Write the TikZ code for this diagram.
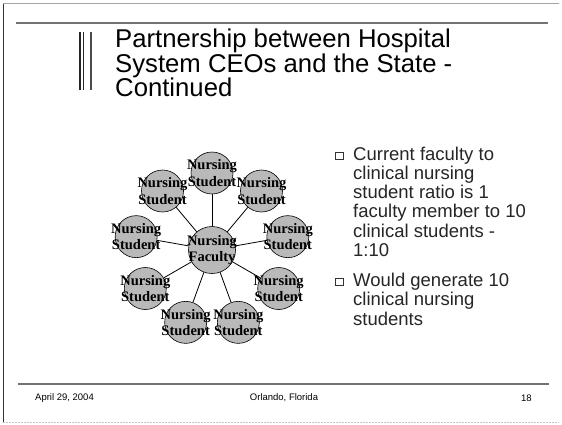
\documentclass[tikz,border=0pt]{standalone}
\usepackage{fontspec}
\setmainfont{Liberation Sans}
\newfontfamily\circfont{Liberation Serif}
\begin{document}
\begin{tikzpicture}[x=1pt,y=-1pt,
  student/.style={circle,draw=black,line width=0.6pt,fill=gray!55,minimum size=42pt,inner sep=0pt},
  faculty/.style={circle,draw=black,line width=0.6pt,fill=gray!55,minimum size=47pt,inner sep=0pt},
  circtext/.style={font=\circfont\bfseries\fontsize{14.5}{16.5}\selectfont,align=center,inner sep=0pt},
  spoke/.style={line width=0.8pt,black},
  titletext/.style={anchor=base west,inner sep=0pt,font=\fontsize{25.7}{27}\selectfont,text=black},
  bodytext/.style={anchor=base west,inner sep=0pt,font=\fontsize{18.5}{21}\selectfont,text=black!85},
  foottext/.style={inner sep=0pt,font=\fontsize{9.5}{11}\selectfont,text=black},
  bulletbox/.style={draw=black!80,line width=0.6pt,minimum size=7.5pt,inner sep=0pt},
]
\useasboundingbox[fill=white] (0,0) rectangle (562,424);
% frame
\draw[black!80,line width=1pt] (3,3) -- (3,422);
\draw[gray!70,line width=0.8pt] (3,3) -- (559,3);
\draw[gray!45,line width=0.8pt,dash pattern=on 2pt off 1pt] (3,422) -- (559,422);
% top rule
\draw[black!55,line width=2pt] (16,22.7) -- (548,22.7);
% title bars
\draw[black!85,line width=1.6pt] (79.8,32) -- (79.8,90);
\draw[black!85,line width=1pt] (83.8,32) -- (83.8,90);
\draw[black!70,line width=2.2pt] (91.3,32) -- (91.3,90);
% title
\node[titletext] (ti1) at (115,47.5) {Partnership between Hospital};
\node[titletext] (ti2) at (115,72.5) {System CEOs and the State -};
\node[titletext] (ti3) at (115,96.5) {Continued};
% diagram
\node[faculty] (f) at (212,250) {};
\foreach \i in {0,...,8}{
  \pgfmathsetmacro{\a}{90+40*\i}
  \node[student] (s\i) at ({212+77*cos(\a)},{250-77*sin(\a)}) {};
  \draw[spoke] (f) -- (s\i);
}
\foreach \i in {0,...,8}{
  \node[circtext] (l\i) at (s\i) {Nursing\\Student};
}
\node[circtext] (lf) at (f) {Nursing\\Faculty};
% bullets
\node[bulletbox] (b1) at (339.5,156) {};
\node[bodytext] (p1) at (353,160) {Current faculty to};
\node[bodytext] (p2) at (353,179.3) {clinical nursing};
\node[bodytext] (p3) at (353,198.6) {student ratio is 1};
\node[bodytext] (p4) at (353,217.9) {faculty member to 10};
\node[bodytext] (p5) at (353,237.2) {clinical students -};
\node[bodytext] (p6) at (353,256.5) {1:10};
\node[bulletbox] (b2) at (339.5,282) {};
\node[bodytext] (q1) at (353,286) {Would generate 10};
\node[bodytext] (q2) at (353,305.5) {clinical nursing};
\node[bodytext] (q3) at (353,325) {students};
% footer
\draw[black!55,line width=1.5pt] (18,384) -- (549,384);
\node[foottext,anchor=west] (fa) at (35,398) {April 29, 2004};
\node[foottext] (fb) at (284,398) {Orlando, Florida};
\node[foottext,anchor=west] (fc) at (521,398) {18};
\end{tikzpicture}
\end{document}
